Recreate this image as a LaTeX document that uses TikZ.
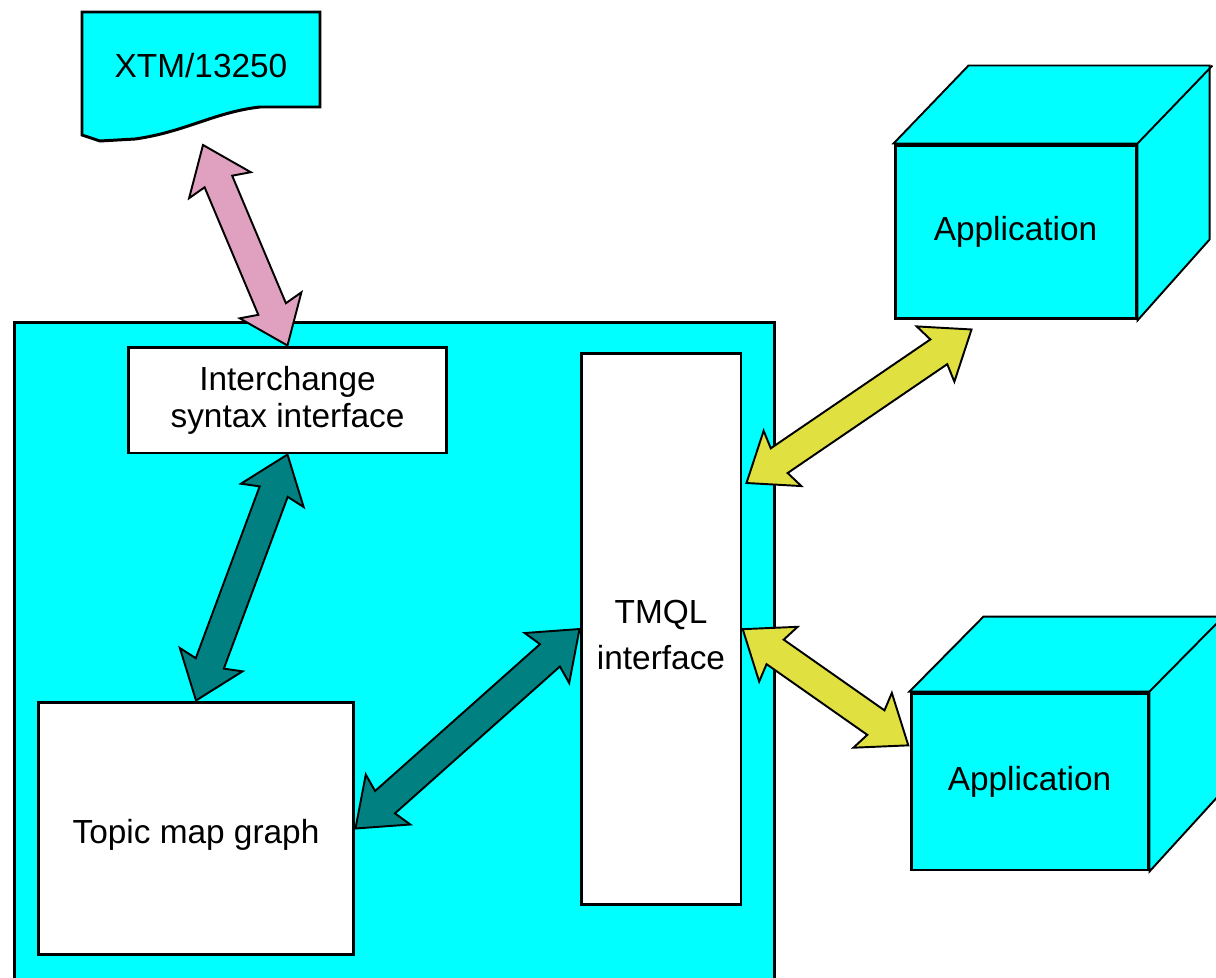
\documentclass[tikz,border=0pt]{standalone}
\usepackage{fontspec}
\setmainfont{Liberation Sans}
\usetikzlibrary{shapes.arrows}
\usetikzlibrary{calc}
\usetikzlibrary{backgrounds}
\definecolor{aqua}{RGB}{0,255,255}
\definecolor{rose}{RGB}{224,160,192}
\definecolor{deepteal}{RGB}{0,128,128}
\definecolor{olivey}{RGB}{224,224,64}
\tikzset{main node/.style={rectangle,draw,line width=1.7pt,inner sep=0pt,font=\fontsize{19}{21}\selectfont,align=center}}
\tikzset{inner text/.style={font=\fontsize{19}{21}\selectfont,align=center}}
\tikzset{link/.style={double arrow,draw,line width=1.1pt,inner xsep=0pt,inner ysep=0.28cm,double arrow head extend=0.37cm,double arrow head indent=0.08cm,double arrow tip angle=75,sloped}}
\tikzset{face/.style={fill=aqua,draw,line width=1.1pt}}
% block arrow between two points: colour, from, to
\newcommand{\twoway}[3]{\path let \p1=($#3-#2$), \n1={veclen(\x1,\y1)} in #2 -- #3 node[link,fill=#1,midway,minimum height=\n1] {};}

\begin{document}
\begin{tikzpicture}[x=0.02cm,y=-0.02cm]
    \useasboundingbox (0,0) rectangle (1216,977);

    % source document
    \draw[face,line width=1.7pt] (82,12) -- (320,12) -- (320,107) -- (260,107) .. controls (215,112) and (185,132) .. (135,139) -- (100,141) -- (82,135) -- cycle;
    \node[inner text] (xtm) at (201,66) {XTM/13250};
    \coordinate (xtm tip) at (203,145);

    % topic map engine
    \node[main node,fill=aqua,minimum width=15.22cm,minimum height=13.56cm] (platform) at (394.5,661) {};
    \node[main node,fill=white,minimum width=6.38cm,minimum height=2.12cm] (sif) at (287.5,400) {Interchange\\syntax interface};
    \node[main node,fill=white,minimum width=3.2cm,minimum height=11.04cm,
        label={[inner text,yshift=-0.12cm]center:TMQL\\[5pt]interface}] (tmql) at (661,629) {};
    \node[main node,fill=white,minimum width=6.32cm,minimum height=5.06cm,
        label={[inner text,yshift=-0.12cm]center:Topic map graph}] (graph) at (196,828.5) {};

    % applications
    \node[main node,fill=aqua,minimum width=4.82cm,minimum height=3.48cm] (app1) at (1015.5,232) {Application};
    \node[main node,fill=aqua,minimum width=4.74cm,minimum height=3.54cm] (app2) at (1029.5,781.5) {Application};
    \begin{scope}[on background layer]
        \draw[face] (app1.north west) -- ++(75,-78) -- ++(241,0) -- ++(0,174) -- (app1.south east) -- (app1.north east) -- cycle;
        \draw[line width=1.1pt] (app1.north east) -- ++(75,-78);
        \draw[face] (app2.north west) -- ++(74,-75) -- ++(237,0) -- ++(0,177) -- (app2.south east) -- (app2.north east) -- cycle;
        \draw[line width=1.1pt] (app2.north east) -- ++(74,-75);
    \end{scope}

    % connections
    \twoway{rose}{(xtm tip)}{(sif.north)}
    \twoway{deepteal}{(sif.south)}{(graph.north)}
    \twoway{deepteal}{(graph.east)}{(tmql.west)}
    \twoway{olivey}{($(tmql.east)+(4,-146)$)}{($(app1.south west)+(78,9)$)}
    \twoway{olivey}{(tmql.east)}{($(app2.west)+(-1,-36)$)}
\end{tikzpicture}
\end{document}
